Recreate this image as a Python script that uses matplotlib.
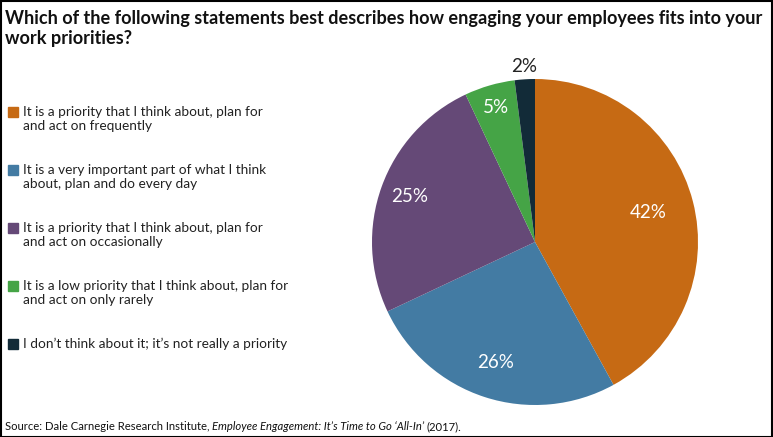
import matplotlib.pyplot as plt
import numpy as np
from matplotlib.patches import Rectangle

plt.rcParams["font.family"] = ["Lato", "DejaVu Sans"]

# data
labels = [
    "It is a priority that I think about, plan for\nand act on frequently",
    "It is a very important part of what I think\nabout, plan and do every day",
    "It is a priority that I think about, plan for\nand act on occasionally",
    "It is a low priority that I think about, plan for\nand act on only rarely",
    "I don\u2019t think about it; it\u2019s not really a priority",
]
values = [42, 26, 25, 5, 2]
colors = ["#C66A14", "#437BA3", "#654977", "#45A446", "#122B38"]
label_dist = [0.72, 0.78, 0.82, 0.86, 1.08]

W, H = 773, 437
fig = plt.figure(figsize=(W / 100, H / 100), dpi=100)

# title
fig.text(5 / W, 1 - 10 / H,
         "Which of the following statements best describes how engaging your employees fits into your\nwork priorities?",
         fontsize=13.05, fontweight="bold", va="top", ha="left", linespacing=1.2, color="#111111")

# pie
cx, cy, r = 535, 242, 163
ax = fig.add_axes([(cx - r) / W, (H - cy - r) / H, 2 * r / W, 2 * r / H])
wedges, _ = ax.pie(values, colors=colors, startangle=90, counterclock=False, radius=1)
ax.set_xlim(-1, 1)
ax.set_ylim(-1, 1)
ax.set_aspect("equal")
ax.axis("off")

for w, v, d in zip(wedges, values, label_dist):
    ang = np.deg2rad((w.theta1 + w.theta2) / 2)
    col = "white" if d < 1 else "#222222"
    ax.text(d * np.cos(ang), d * np.sin(ang), f"{v}%", ha="center", va="center",
            fontsize=13.5, color=col)

# legend
y0 = 112
for i, (lab, c) in enumerate(zip(labels, colors)):
    y = y0 + i * 58
    fig.patches.append(Rectangle((8 / W, 1 - (y + 5) / H), 10 / W, 10 / H,
                                 transform=fig.transFigure, color=c))
    fig.text(23 / W, 1 - (y - 6) / H, lab, fontsize=9.8, va="top", ha="left",
             linespacing=1.2, color="#222222")

# source
fs = 8.1
fig.text(5 / W, 1 - 427 / H, "Source: Dale Carnegie Research Institute, ", fontsize=fs,
         va="center", ha="left", color="#111111")
src = fig.texts[-1]
fig.canvas.draw()
bb = src.get_window_extent()
t2 = fig.text(bb.x1 / W, 1 - 427 / H, "Employee Engagement: It\u2019s Time to Go \u2018All-In\u2019",
              fontsize=fs, style="italic", va="center", ha="left", color="#111111")
bb2 = t2.get_window_extent()
fig.text(bb2.x1 / W + 2 / W, 1 - 427 / H, "(2017).", fontsize=fs,
         va="center", ha="left", color="#111111")

# border
fig.patches.append(Rectangle((0.5 / W, 0.5 / H), 1 - 1.5 / W, 1 - 1.5 / H,
                             transform=fig.transFigure, fill=False, edgecolor="black", linewidth=1.5))

fig.savefig("out.png", dpi=100)
